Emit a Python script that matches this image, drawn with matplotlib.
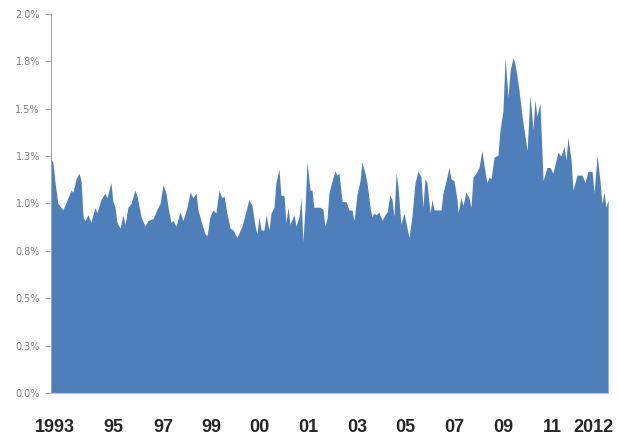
import matplotlib
matplotlib.use("Agg")
import matplotlib.pyplot as plt

# months since Jan 1993 and the monthly rate (%)
months = [
    0.0, 0.8, 1.7, 2.9, 5.0, 7.1, 8.4, 9.2, 10.5, 11.7, 12.6, 13.4, 14.2, 15.5, 16.7,
    18.4, 19.2, 20.9, 22.6, 23.4, 25.1, 25.9, 26.8, 27.6, 28.9, 30.1, 31.0, 32.2, 33.5,
    35.1, 36.0, 37.7, 39.3, 40.6, 42.7, 44.4, 45.6, 46.9, 48.1, 49.0, 50.2, 51.0, 52.3,
    54.0, 55.2, 56.9, 58.2, 59.4, 60.7, 61.5, 63.2, 64.4, 65.3, 66.5, 67.8, 69.0, 70.3,
    71.5, 72.4, 73.6, 74.9, 76.2, 77.8, 79.9, 81.2, 82.8, 84.1, 85.4, 86.2, 87.0, 87.9,
    89.1, 90.0, 91.2, 92.1, 93.3, 94.1, 95.4, 96.2, 97.5, 98.3, 99.2, 100.0, 101.7,
    102.5, 103.8, 104.6, 105.4, 106.3, 107.1, 108.4, 109.2, 110.0, 112.6, 113.8, 114.6,
    115.5, 116.3, 117.6, 118.8, 119.7, 120.5, 121.8, 123.4, 124.7, 125.9, 126.8, 128.0,
    129.3, 130.1, 131.4, 132.2, 133.5, 134.3, 135.1, 136.0, 137.2, 138.5, 139.7, 140.6,
    141.8, 142.7, 143.5, 144.4, 145.2, 146.4, 147.7, 148.5, 149.8, 151.0, 152.3, 153.6,
    154.8, 155.6, 156.5, 157.3, 158.6, 159.4, 160.3, 161.5, 163.2, 164.0, 165.3, 166.5,
    167.4, 168.6, 169.9, 170.3, 171.5, 172.4, 173.6, 174.9, 175.7, 176.6, 177.8, 179.1,
    180.3, 181.2, 182.4, 183.3, 184.1, 185.4, 187.0, 187.9, 189.1, 190.0, 191.2, 192.1,
    193.3, 194.1, 195.0, 195.8, 197.1, 197.9, 199.2, 200.4, 201.7, 202.5, 203.3, 204.6,
    205.9, 207.5, 208.8, 210.0, 212.1, 213.4, 214.6, 215.5, 216.3, 217.6, 218.4, 220.1,
    222.2, 223.4, 224.7, 226.4, 227.2, 228.5, 229.7, 230.5, 231.4, 232.2, 233.1,
]
rate = [
    1.23, 1.22, 1.11, 1.00, 0.966, 1.03, 1.07, 1.06, 1.13, 1.16, 1.12, 0.93, 0.91, 0.94, 0.90,
    0.98, 0.95, 1.02, 1.055, 1.03, 1.11, 1.01, 0.98, 0.90, 0.87, 0.94, 0.89, 0.98, 1.00,
    1.07, 1.04, 0.93, 0.88, 0.91, 0.92, 0.97, 1.00, 1.10, 1.055, 0.98, 0.90, 0.91, 0.88,
    0.955, 0.91, 0.98, 1.06, 1.03, 1.055, 0.966, 0.89, 0.84, 0.83, 0.93, 0.966, 0.95, 1.07,
    1.03, 1.04, 0.95, 0.87, 0.86, 0.82, 0.88, 0.94, 1.02, 0.99, 0.88, 0.84, 0.93, 0.86,
    0.86, 0.94, 0.86, 0.95, 0.98, 1.11, 1.18, 1.045, 1.04, 0.90, 0.98, 0.89, 0.94,
    0.88, 0.93, 1.03, 0.80, 0.98, 1.22, 1.07, 1.07, 0.98, 0.98, 0.97, 0.88,
    0.92, 1.055, 1.12, 1.17, 1.15, 1.16, 1.01, 1.01, 0.966, 0.966, 0.91, 1.045,
    1.12, 1.22, 1.16, 1.11, 0.98, 0.93, 0.95, 0.94, 0.955, 0.91, 0.94, 0.955,
    1.045, 1.02, 0.93, 1.16, 1.09, 0.89, 0.95, 0.90, 0.82, 0.93, 1.11, 1.17,
    1.14, 0.98, 1.13, 1.11, 0.95, 1.02, 0.966, 0.966, 0.966, 1.055, 1.12, 1.19,
    1.13, 1.12, 1.02, 0.95, 1.03, 0.99, 1.06, 1.03, 0.98, 1.14, 1.16, 1.19,
    1.28, 1.20, 1.11, 1.14, 1.13, 1.245, 1.255, 1.39, 1.49, 1.77, 1.56, 1.70,
    1.77, 1.74, 1.67, 1.60, 1.46, 1.39, 1.28, 1.57, 1.39, 1.55, 1.46, 1.53,
    1.12, 1.19, 1.19, 1.16, 1.27, 1.25, 1.30, 1.23, 1.35, 1.23, 1.07, 1.15,
    1.15, 1.11, 1.17, 1.17, 1.055, 1.255, 1.12, 1.00, 1.06, 0.98, 1.02,
]

year_ticks = [1.6, 25.9, 46.9, 66.9, 87.0, 107.5, 128.0, 148.1, 168.6, 189.1, 209.6, 226.8]
year_labels = ["1993", "95", "97", "99", "00", "01", "03", "05", "07", "09", "11", "2012"]

y_ticks = [0.0, 0.25, 0.5, 0.75, 1.0, 1.25, 1.5, 1.75, 2.0]
y_labels = ["0.0%", "0.3%", "0.5%", "0.8%", "1.0%", "1.3%", "1.5%", "1.8%", "2.0%"]

fig = plt.figure(figsize=(6.18, 4.37), dpi=100)
ax = fig.add_axes([0.0825, 0.1007, 0.9015, 0.8673])

ax.fill_between(months, rate, 0, color="#4f7fbb", linewidth=0)

ax.set_xlim(months[0], months[-1])
ax.set_ylim(0, 2.0)

ax.set_yticks(y_ticks)
ax.set_yticklabels(y_labels, fontsize=7, color="#808080", family="DejaVu Sans")
ax.tick_params(axis="y", length=4, width=0.8, color="#a6a6a6", pad=4)

ax.set_xticks(year_ticks)
ax.set_xticklabels(year_labels, fontsize=13, fontweight="bold", color="#262626",
                   family="Liberation Sans")
ax.tick_params(axis="x", length=0, pad=19)

for side in ["top", "right"]:
    ax.spines[side].set_visible(False)
ax.spines["left"].set_color("#a6a6a6")
ax.spines["bottom"].set_color("#c0c0c0")
ax.spines["left"].set_linewidth(0.8)
ax.spines["bottom"].set_linewidth(0.8)

fig.savefig("out.png", dpi=100)
